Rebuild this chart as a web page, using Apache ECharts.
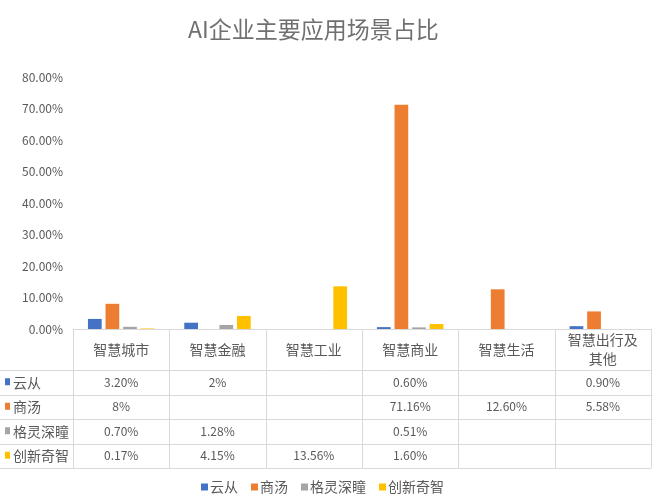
<!DOCTYPE html>
<html><head><meta charset="utf-8">
<script src="https://cdn.jsdelivr.net/npm/echarts@6/dist/echarts.min.js"></script>
<style>html,body{margin:0;padding:0;background:#fff}#c{width:654px;height:497px}</style>
</head><body><div id="c"></div>
<script>
var categories = ['智慧城市','智慧金融','智慧工业','智慧商业','智慧生活','智慧出行及\n其他'];
var seriesNames = ['云从','商汤','格灵深瞳','创新奇智'];
var yunCong   = ['3.20%','2%','','0.60%','','0.90%'];
var shangTang = ['8%','','','71.16%','12.60%','5.58%'];
var geLing    = ['0.70%','1.28%','','0.51%','',''];
var chuangXin = ['0.17%','4.15%','13.56%','1.60%','',''];
var yTicks = [0,10,20,30,40,50,60,70,80];
var colors = ['#4472C4','#ED7D31','#A5A5A5','#FFC000'];

var tableRows = [yunCong, shangTang, geLing, chuangXin];
function toNum(s){ return s === '' ? null : parseFloat(s); }
var FONT = '"Noto Sans CJK SC", "Noto Sans", sans-serif';
var TXT = '#595959';

var chart = echarts.init(document.getElementById('c'));
var option = {
  animation: false,
  color: colors,
  textStyle: {fontFamily: FONT},
  title: {
    text: 'AI企业主要应用场景占比', left: 183, top: 13,
    textStyle: {fontSize: 23, fontWeight: 'normal', color: '#707070', fontFamily: FONT}
  },
  legend: {
    data: seriesNames, left: 196, top: 475, icon: 'rect',
    itemWidth: 7, itemHeight: 7, itemGap: 13,
    textStyle: {fontSize: 14, color: TXT, padding: [0,0,0,-3]}
  },
  grid: {left: 73, right: 3, top: 77, bottom: 168},
  xAxis: {
    type: 'category', data: categories,
    axisLine: {show: false}, axisTick: {show: false}, axisLabel: {show: false}
  },
  yAxis: {
    type: 'value', min: yTicks[0], max: yTicks[yTicks.length-1], interval: 10,
    splitLine: {show: false}, axisLine: {show: false}, axisTick: {show: false},
    axisLabel: {color: TXT, fontSize: 12, margin: 10, formatter: function(v){ return v.toFixed(2) + '%'; }}
  },
  series: seriesNames.map(function(n, i){
    return {name: n, type: 'bar', data: tableRows[i].map(toNum),
      barGap: '28%', barCategoryGap: '31%'};
  })
};
chart.setOption(option);

// Build data table from axis positions
var c0 = chart.convertToPixel({xAxisIndex: 0}, 0);
var c1 = chart.convertToPixel({xAxisIndex: 0}, 1);
var bw = c1 - c0;
var yTop = chart.convertToPixel({yAxisIndex: 0}, 0);
var headerH = 41, rowH = 24.5;
var left = c0 - bw/2, right = c0 + bw*(categories.length - 0.5);
var bottom = yTop + headerH + rowH*seriesNames.length;
var lineStyle = {stroke: '#D9D9D9', lineWidth: 1};
var g = [];
g.push({type:'line', shape:{x1:left, y1:yTop+0.5, x2:right, y2:yTop+0.5}, style:lineStyle});
for (var r = 0; r <= seriesNames.length; r++) {
  var y = Math.round(yTop + headerH + rowH*r) + 0.5;
  g.push({type:'line', shape:{x1:0, y1:y, x2:right, y2:y}, style:lineStyle});
}
for (var k = 0; k <= categories.length; k++) {
  var x = Math.round(left + bw*k) + 0.5;
  g.push({type:'line', shape:{x1:x, y1:yTop, x2:x, y2:bottom}, style:lineStyle});
}
categories.forEach(function(cat, i){
  g.push({type:'text', x: c0 + bw*i, y: yTop + headerH/2,
    style:{text: cat, fill: TXT, font: '14px ' + FONT, align:'center', verticalAlign:'middle', lineHeight: 19}});
});
seriesNames.forEach(function(n, r){
  var cy = yTop + headerH + rowH*r + rowH/2;
  g.push({type:'rect', shape:{x:5, y:cy-4, width:5, height:7}, style:{fill: colors[r]}});
  g.push({type:'text', x: 13, y: cy,
    style:{text: n, fill: TXT, font: '14px ' + FONT, align:'left', verticalAlign:'middle'}});
  tableRows[r].forEach(function(v, i){
    if (v === '') return;
    g.push({type:'text', x: c0 + bw*i, y: cy,
      style:{text: v, fill: TXT, font: '12px ' + FONT, align:'center', verticalAlign:'middle'}});
  });
});
chart.setOption({graphic: g});
</script>
</body></html>
